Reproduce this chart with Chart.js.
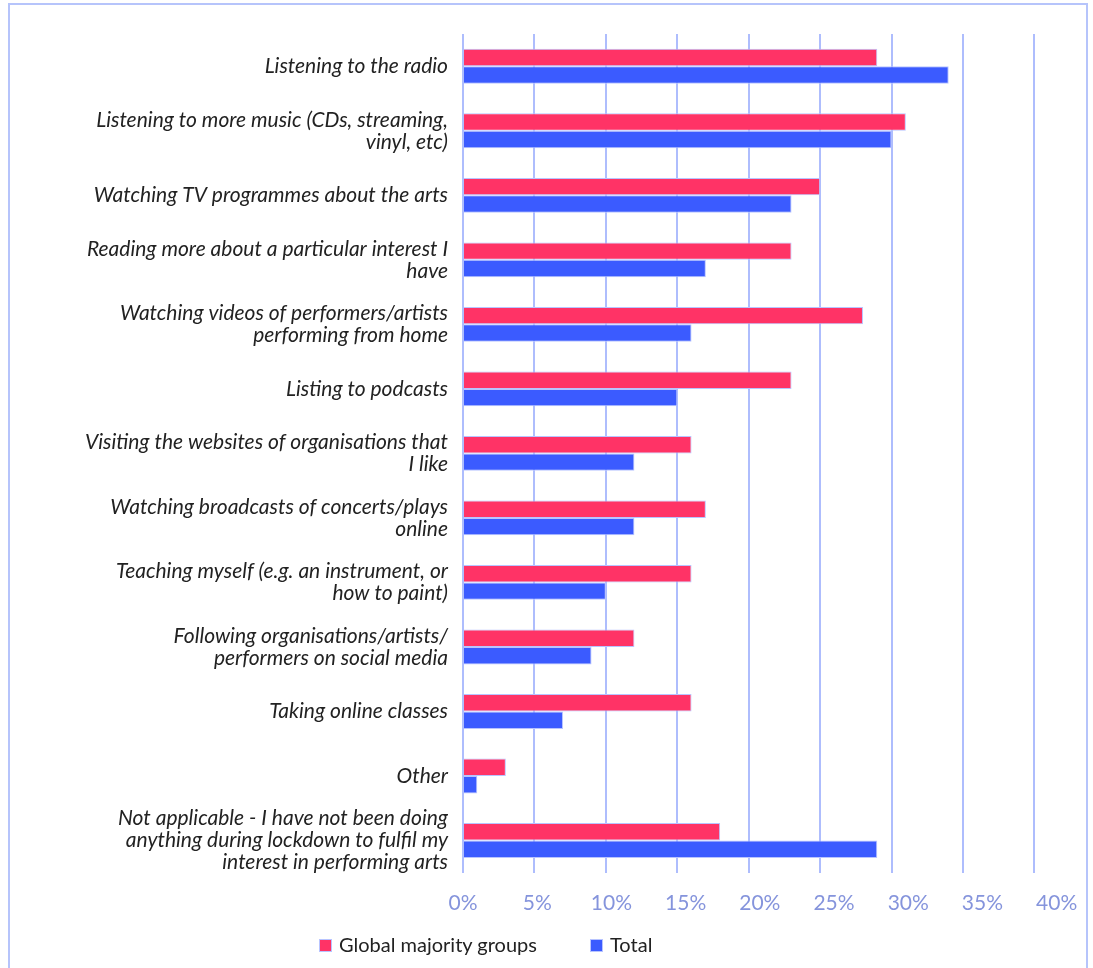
<!DOCTYPE html>
<html>
<head>
<meta charset="utf-8">
<script src="https://cdn.jsdelivr.net/npm/chart.js@4"></script>
<style>
    body { margin: 0; background: #fff; }
    #frame { position: absolute; left: 8px; top: 3px; width: 1076px; height: 990px; border: 2px solid #b6c4fb; }
    #wrap { position: absolute; left: 0; top: 0; width: 1093px; height: 968px; }
    .leg { position: absolute; top: 932px; font-family: Lato, sans-serif; font-size: 20px; color: #222; }
    .leg span { display: inline-block; width: 11px; height: 11px; margin-right: 7px; vertical-align: 0px; border: 1px solid #b8c4ff; }
</style>
</head>
<body>
<div id="frame"></div>
<div id="wrap"><canvas id="chart" width="1093" height="968"></canvas></div>
<div class="leg" style="left:319px"><span style="background:#ff3366"></span>Global majority groups</div>
<div class="leg" style="left:590px"><span style="background:#3b5bff"></span>Total</div>
<script>
var categories = [
    ['Listening to the radio'],
    ['Listening to more music (CDs, streaming,', 'vinyl, etc)'],
    ['Watching TV programmes about the arts'],
    ['Reading more about a particular interest I', 'have'],
    ['Watching videos of performers/artists', 'performing from home'],
    ['Listing to podcasts'],
    ['Visiting the websites of organisations that', 'I like'],
    ['Watching broadcasts of concerts/plays', 'online'],
    ['Teaching myself (e.g. an instrument, or', 'how to paint)'],
    ['Following organisations/artists/', 'performers on social media'],
    ['Taking online classes'],
    ['Other'],
    ['Not applicable - I have not been doing', 'anything during lockdown to fulfil my', 'interest in performing arts']
];
var globalMajority = [29, 31, 25, 23, 28, 23, 16, 17, 16, 12, 16, 3, 18];
var total = [34, 30, 23, 17, 16, 15, 12, 12, 10, 9, 7, 1, 29];
var xTicks = [0, 5, 10, 15, 20, 25, 30, 35, 40];

var ctx = document.getElementById('chart').getContext('2d');
new Chart(ctx, {
    type: 'bar',
    data: {
        labels: categories,
        datasets: [
            {
                label: 'Global majority groups',
                data: globalMajority,
                backgroundColor: '#ff3366',
                borderColor: '#b8c4ff',
                borderWidth: 1
            },
            {
                label: 'Total',
                data: total,
                backgroundColor: '#3b5bff',
                borderColor: '#b8c4ff',
                borderWidth: 1
            }
        ]
    },
    options: {
        indexAxis: 'y',
        responsive: false,
        animation: false,
        categoryPercentage: 0.54,
        barPercentage: 1,
        layout: { padding: { top: 34, right: 58, bottom: 34, left: 0 } },
        plugins: {
            legend: { display: false },
            tooltip: { enabled: false }
        },
        scales: {
            x: {
                min: 0,
                max: 40,
                afterBuildTicks: function (axis) {
                    axis.ticks = xTicks.map(v => ({ value: v }));
                },
                ticks: { display: false },
                grid: { color: '#aebdfd', lineWidth: 2, drawTicks: false },
                border: { display: false }
            },
            // the % labels in the original sit on a slightly wider spacing than the gridlines
            xLabel: {
                type: 'linear',
                position: 'bottom',
                min: 0,
                max: 38.5,
                afterBuildTicks: function (axis) {
                    axis.ticks = xTicks.map(v => ({ value: v }));
                },
                ticks: {
                    autoSkip: false,
                    padding: 18,
                    color: '#8594dc',
                    font: { family: 'Lato', size: 21 },
                    callback: function (v) { return v + '%'; }
                },
                grid: { display: false, drawTicks: false },
                border: { display: false }
            },
            y: {
                afterFit: function (axis) {
                    axis.width = 463;
                    axis.paddingTop = 0;
                    axis.paddingBottom = 0;
                },
                ticks: {
                    autoSkip: false,
                    padding: 15,
                    color: '#222',
                    font: { family: 'Lato', size: 21, style: 'italic', lineHeight: 1.05 }
                },
                grid: { display: false, drawTicks: false },
                border: { display: false }
            }
        }
    }
});
</script>
</body>
</html>
